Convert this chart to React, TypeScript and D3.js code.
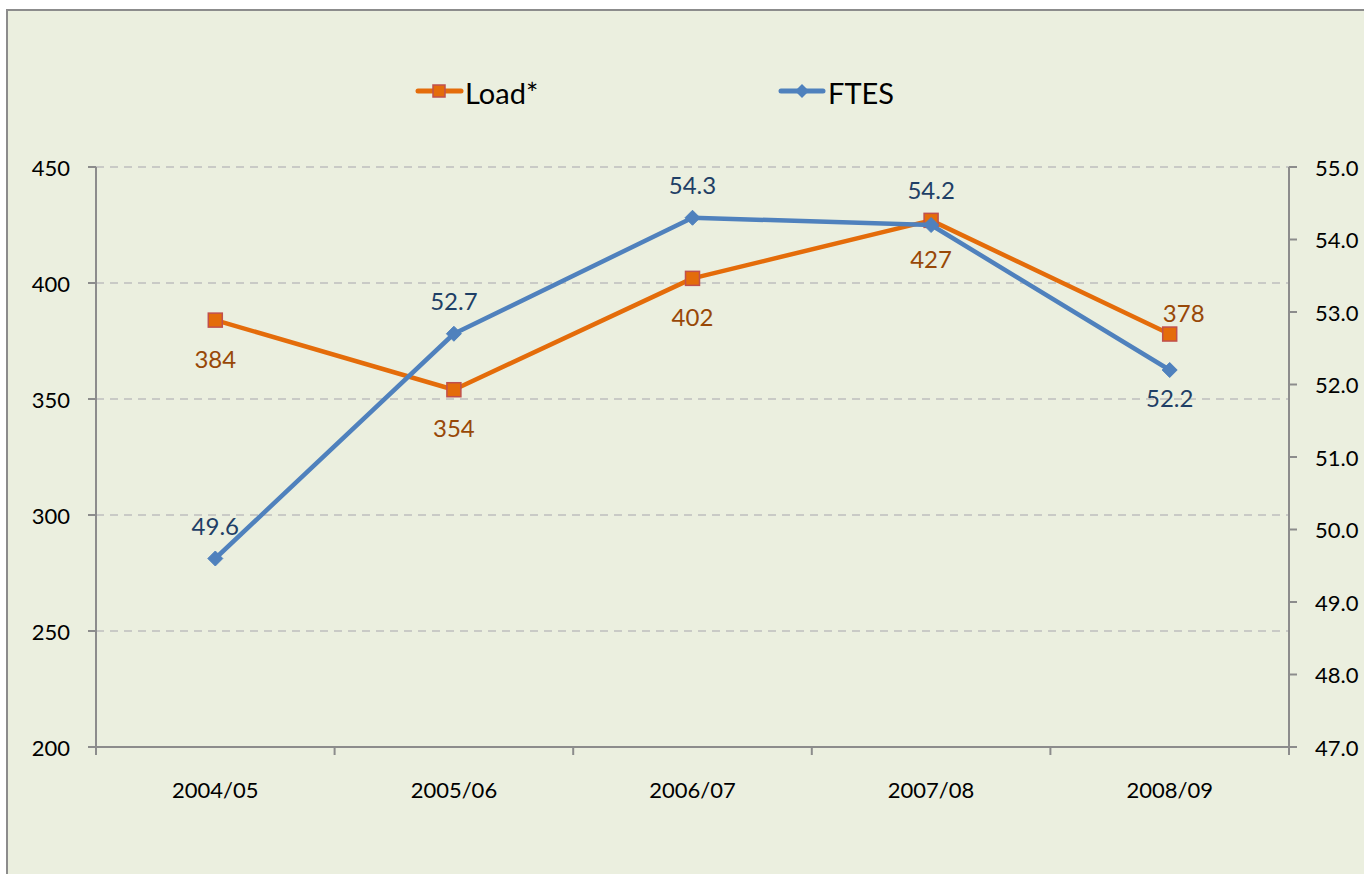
import React from "react";
import * as d3 from "d3";

const categories = ["2004/05", "2005/06", "2006/07", "2007/08", "2008/09"];
const loadValues = [384, 354, 402, 427, 378];
const ftesValues = [49.6, 52.7, 54.3, 54.2, 52.2];
const leftTicks = [200, 250, 300, 350, 400, 450];
const rightTicks = [47, 48, 49, 50, 51, 52, 53, 54, 55];
const seriesNames = ["Load*", "FTES"];

// label placement (style): dx, dy relative to point
const loadLabelPos = [
  [0, 38], [0, 38], [0, 38], [0, 38], [14, -22],
];
const ftesLabelPos = [
  [0, -33], [0, -33], [0, -33], [0, -36], [0, 27],
];

const FONT = "Lato, 'Open Sans', sans-serif";
const ORANGE = "#E46C0A";
const ORANGE_EDGE = "#C0504D";
const BLUE = "#4F81BD";
const LOAD_LABEL = "#984807";
const FTES_LABEL = "#1F3F66";
const AXIS = "#8C8C8C";

export default function App() {
  const W = 1364, H = 874;
  const left = 96, right = 1289, top = 167, bottom = 747;
  const x = d3.scaleBand<string>().domain(categories).range([left, right]);
  const cx = (c: string) => (x(c) as number) + x.bandwidth() / 2;
  const yL = d3.scaleLinear().domain([200, 450]).range([bottom, top]);
  const yR = d3.scaleLinear().domain([47, 55]).range([bottom, top]);

  const loadLine = d3.line<number>().x((_, i) => cx(categories[i])).y((d) => yL(d));
  const ftesLine = d3.line<number>().x((_, i) => cx(categories[i])).y((d) => yR(d));

  const boundaries = d3.range(categories.length + 1).map((i) => left + i * x.step());
  const diamond = (px: number, py: number, r: number) =>
    `M${px},${py - r}L${px + r},${py}L${px},${py + r}L${px - r},${py}Z`;

  return (
    <svg width={W} height={H} style={{ position: "absolute", left: 0, top: 0 }} fontFamily={FONT}>
      <rect x={0} y={0} width={W} height={H} fill="#ffffff" />
      <rect x={7} y={10} width={W + 20} height={H + 20} fill="#EBEFDF" stroke={AXIS} strokeWidth={2} />

      {/* gridlines */}
      {leftTicks.filter((t) => t !== 200).map((t) => (
        <line key={"g" + t} x1={left} x2={right} y1={yL(t)} y2={yL(t)} stroke="#BFBFBF" strokeWidth={1.5} strokeDasharray="8,6" />
      ))}

      {/* axes */}
      <line x1={left} x2={left} y1={top} y2={bottom} stroke={AXIS} strokeWidth={2} />
      <line x1={right} x2={right} y1={top} y2={bottom} stroke={AXIS} strokeWidth={2} />
      <line x1={left} x2={right} y1={bottom} y2={bottom} stroke={AXIS} strokeWidth={2} />
      {leftTicks.map((t) => (
        <g key={"lt" + t}>
          <line x1={left - 8} x2={left} y1={yL(t)} y2={yL(t)} stroke={AXIS} strokeWidth={2} />
          <text x={70} y={yL(t)} textAnchor="end" dominantBaseline="central" fontSize={22} fill="#000">{t}</text>
        </g>
      ))}
      {rightTicks.map((t) => (
        <g key={"rt" + t}>
          <line x1={right} x2={right + 8} y1={yR(t)} y2={yR(t)} stroke={AXIS} strokeWidth={2} />
          <text x={1315} y={yR(t)} textAnchor="start" dominantBaseline="central" fontSize={22} fill="#000">{t.toFixed(1)}</text>
        </g>
      ))}
      {boundaries.map((b, i) => (
        <line key={"xt" + i} x1={b} x2={b} y1={bottom} y2={bottom + 8} stroke={AXIS} strokeWidth={2} />
      ))}
      {categories.map((c) => (
        <text key={"xl" + c} x={cx(c)} y={789} textAnchor="middle" dominantBaseline="central" fontSize={22} fill="#000">{c}</text>
      ))}

      {/* Load series */}
      <path d={loadLine(loadValues) || ""} fill="none" stroke={ORANGE} strokeWidth={4.5} strokeLinejoin="round" strokeLinecap="round" />
      {loadValues.map((v, i) => (
        <rect key={"lm" + i} x={cx(categories[i]) - 7} y={yL(v) - 7} width={14} height={14} fill={ORANGE} stroke={ORANGE_EDGE} strokeWidth={1.5} />
      ))}

      {/* FTES series */}
      <path d={ftesLine(ftesValues) || ""} fill="none" stroke={BLUE} strokeWidth={4.5} strokeLinejoin="round" strokeLinecap="round" />
      {ftesValues.map((v, i) => (
        <path key={"fm" + i} d={diamond(cx(categories[i]), yR(v), 7.5)} fill={BLUE} stroke={BLUE} strokeWidth={1} />
      ))}

      {/* data labels */}
      {loadValues.map((v, i) => (
        <text key={"ll" + i} x={cx(categories[i]) + loadLabelPos[i][0]} y={yL(v) + loadLabelPos[i][1]} textAnchor="middle" dominantBaseline="central" fontSize={24} fill={LOAD_LABEL}>{v}</text>
      ))}
      {ftesValues.map((v, i) => (
        <text key={"fl" + i} x={cx(categories[i]) + ftesLabelPos[i][0]} y={yR(v) + ftesLabelPos[i][1]} textAnchor="middle" dominantBaseline="central" fontSize={24} fill={FTES_LABEL}>{v.toFixed(1)}</text>
      ))}

      {/* legend */}
      <g>
        <line x1={418} x2={461} y1={91} y2={91} stroke={ORANGE} strokeWidth={5} strokeLinecap="round" />
        <rect x={433} y={85} width={12} height={12} fill={ORANGE} stroke={ORANGE_EDGE} strokeWidth={1.5} />
        <text x={465} y={92} dominantBaseline="central" fontSize={29} fill="#000">{seriesNames[0]}</text>
        <line x1={781} x2={823} y1={91} y2={91} stroke={BLUE} strokeWidth={5} strokeLinecap="round" />
        <path d={diamond(802, 91, 7)} fill={BLUE} />
        <text x={828} y={92} dominantBaseline="central" fontSize={29} fill="#000">{seriesNames[1]}</text>
      </g>
    </svg>
  );
}
